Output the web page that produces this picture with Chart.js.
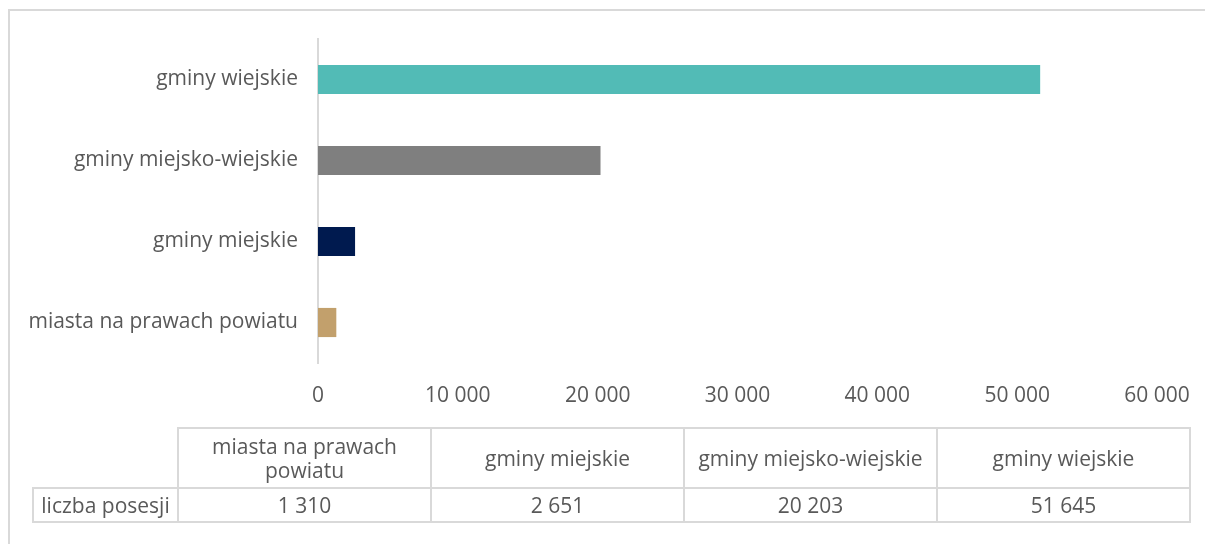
<!DOCTYPE html>
<html>
<head>
<meta charset="utf-8">
<script src="https://cdn.jsdelivr.net/npm/chart.js@4"></script>
<style>
  body { margin: 0; background: #fff; width: 1205px; height: 544px; overflow: hidden; position: relative; font-family: "Open Sans", sans-serif; }
  #frame { position: absolute; left: 8px; top: 9px; width: 1300px; height: 600px; border-left: 2px solid #d9d9d9; border-top: 2px solid #d9d9d9; }
  #chartBox { position: absolute; left: 10px; top: 11px; width: 1215px; height: 420px; }
  #tbl { position: absolute; left: 32px; top: 427px; border-collapse: collapse; color: #595959; font-size: 21px; }
  #tbl td { border: 2px solid #d9d9d9; text-align: center; padding: 0; line-height: 24px; white-space: nowrap; }
  #tbl td.corner { border: none; }
</style>
</head>
<body>
<div id="frame"></div>
<div id="chartBox"><canvas id="_canvasc"></canvas></div>
<table id="tbl"></table>
<script>
  // ******************************************************** DATA
  var categories = ["miasta na prawach powiatu", "gminy miejskie", "gminy miejsko-wiejskie", "gminy wiejskie"];
  var tableHeads = ["miasta na prawach<br>powiatu", "gminy miejskie", "gminy miejsko-wiejskie", "gminy wiejskie"];
  var seriesName = "liczba posesji";
  var values = [1310, 2651, 20203, 51645];
  var colors = ["#c2a06c", "#001a4f", "#7f7f7f", "#52bbb6"];
  var xTicks = [0, 10000, 20000, 30000, 40000, 50000, 60000];

  function fmt(v) {
    return String(v).replace(/\B(?=(\d{3})+(?!\d))/g, " ");
  }

  // ******************************************************** TABLE
  var tbl = document.getElementById("tbl");
  var head = '<tr style="height:60px"><td class="corner" style="width:144px"></td>';
  tableHeads.forEach(function (h) { head += '<td style="width:251px">' + h + '</td>'; });
  head += '</tr>';
  var row = '<tr style="height:34px"><td style="padding:0 2px">' + seriesName + '</td>';
  values.forEach(function (v) { row += '<td>' + fmt(v) + '</td>'; });
  row += '</tr>';
  tbl.innerHTML = head + row;

  // ******************************************************** CHART
  var config = {
    type: 'bar',
    data: {
      labels: categories,
      datasets: [{
        label: seriesName,
        data: values,
        backgroundColor: colors,
        barPercentage: 0.36,
        categoryPercentage: 1
      }]
    },
    options: {
      indexAxis: 'y',
      responsive: true,
      maintainAspectRatio: false,
      animation: false,
      layout: { padding: { left: 0, right: 68, top: 28, bottom: 18 } },
      plugins: { legend: { display: false }, tooltip: { enabled: false } },
      scales: {
        x: {
          min: 0,
          max: 60000,
          afterBuildTicks: function (s) { s.ticks = xTicks.map(function (v) { return { value: v }; }); },
          afterFit: function (s) { s.height = 50; },
          grid: { display: false, drawTicks: false },
          border: { display: false },
          ticks: { padding: 20, color: '#595959', font: { family: 'Open Sans', size: 21 }, callback: function (v) { return fmt(v); } }
        },
        y: {
          reverse: true,
          afterFit: function (s) { s.width = 308; s.paddingTop = 0; s.paddingBottom = 0; },
          grid: { display: false, drawTicks: false },
          border: { display: true, color: '#d9d9d9', width: 2 },
          ticks: { padding: 20, color: '#595959', font: { family: 'Open Sans', size: 21 } }
        }
      }
    }
  };

  window.myBar = new Chart(document.getElementById("_canvasc"), config);
</script>
</body>
</html>
